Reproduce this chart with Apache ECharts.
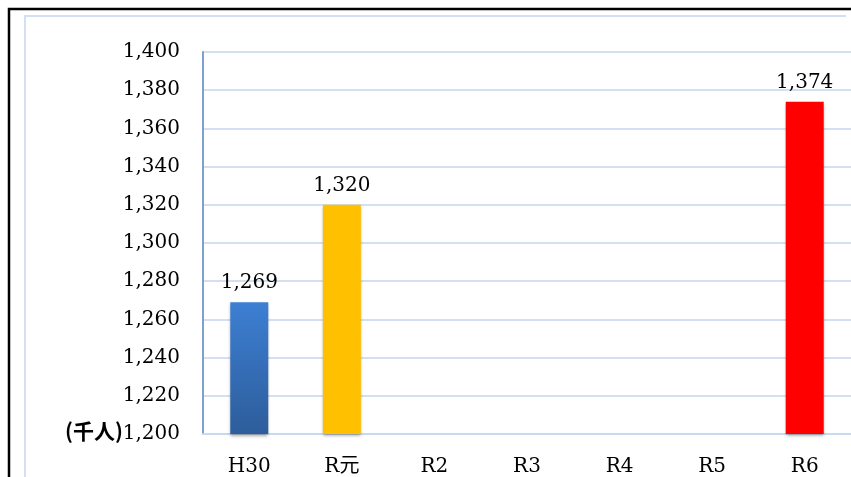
<!DOCTYPE html>
<html>
<head>
<meta charset="utf-8">
<script src="https://cdn.jsdelivr.net/npm/echarts@6/dist/echarts.min.js"></script>
<style>
  html, body { margin: 0; padding: 0; background: #fff; }
  #chart { width: 851px; height: 477px; }
</style>
</head>
<body>
<div id="chart"></div>
<script>
// Fiscal years (Japanese era notation) and visitor totals, thousands of people
const years = ['H30', 'R元', 'R2', 'R3', 'R4', 'R5', 'R6'];
const visitors = [1269, 1320, null, null, null, null, 1374];
const yTicks = [1200, 1220, 1240, 1260, 1280, 1300, 1320, 1340, 1360, 1380, 1400];

const serif = '"DejaVu Serif", "Noto Sans CJK JP", serif';

const barColors = [
  new echarts.graphic.LinearGradient(0, 0, 0, 1, [
    { offset: 0, color: '#3d7fd3' },
    { offset: 1, color: '#2d5d9b' }
  ]),
  '#ffc000', null, null, null, null, '#ff0000'
];

const fmt = v => v.toLocaleString('en-US');

const chart = echarts.init(document.getElementById('chart'), null, { renderer: 'canvas' });
chart.setOption({
  animation: false,
  backgroundColor: '#fff',
  grid: { left: 203, right: 0, top: 52, bottom: 43, containLabel: false },
  xAxis: {
    type: 'category',
    data: years,
    axisLine: { show: true, lineStyle: { color: '#c9d9ee', width: 2 } },
    axisTick: { show: false },
    axisLabel: {
      color: '#000',
      fontFamily: serif,
      fontSize: 20,
      margin: 23
    }
  },
  yAxis: {
    type: 'value',
    min: yTicks[0],
    max: yTicks[yTicks.length - 1],
    interval: yTicks[1] - yTicks[0],
    axisLine: { show: true, lineStyle: { color: '#7f9fcc', width: 2 } },
    axisTick: { show: false },
    splitLine: { lineStyle: { color: '#d3e0f1', width: 2 } },
    axisLabel: {
      color: '#000',
      fontFamily: serif,
      fontSize: 20,
      margin: 23,
      formatter: fmt
    }
  },
  series: [{
    type: 'bar',
    barWidth: 38,
    data: visitors.map((v, i) => ({
      value: v,
      itemStyle: {
        color: barColors[i] || '#000',
        shadowColor: 'rgba(0,0,0,0.35)',
        shadowBlur: 3,
        shadowOffsetY: 2
      }
    })),
    label: {
      show: true,
      position: 'top',
      distance: 9,
      color: '#000',
      fontFamily: serif,
      fontSize: 20,
      formatter: p => (p.value == null ? '' : fmt(p.value))
    }
  }],
  graphic: [
    // outer black frame
    {
      type: 'rect', silent: true, z: 100,
      shape: { x: 9, y: 9, width: 900, height: 600 },
      style: { fill: null, stroke: '#000', lineWidth: 2.5 }
    },
    // inner light-blue chart-area frame (top and left edges)
    {
      type: 'polyline', silent: true, z: 100,
      shape: { points: [[846, 16], [25, 16], [25, 500]] },
      style: { fill: null, stroke: '#d3e0f1', lineWidth: 2 }
    },
    // unit caption beside the axis minimum
    {
      type: 'text', silent: true, z: 101,
      left: 65, top: 421,
      style: {
        text: '(千人)',
        fill: '#000',
        font: 'bold 21px "Noto Sans CJK JP", sans-serif'
      }
    }
  ]
});
</script>
</body>
</html>
